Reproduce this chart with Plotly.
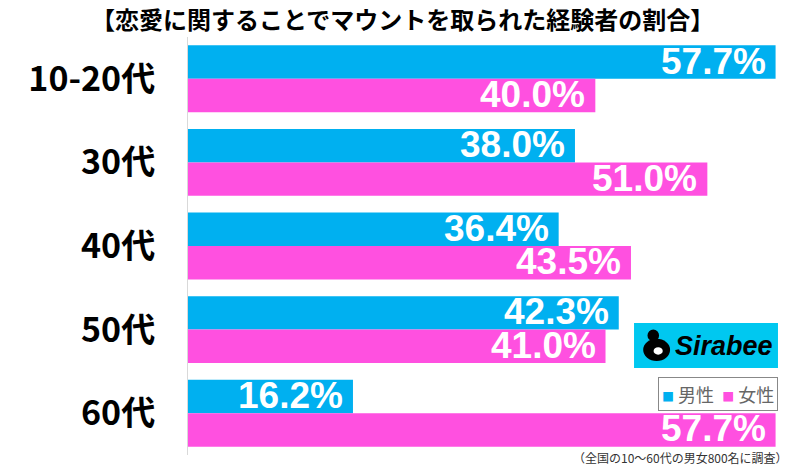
import plotly.graph_objects as go

categories = ["10-20代", "30代", "40代", "50代", "60代"]
male = [57.7, 38.0, 36.4, 42.3, 16.2]
female = [40.0, 51.0, 43.5, 41.0, 57.7]
series_names = ["男性", "女性"]
title_text = "【恋愛に関することでマウントを取られた経験者の割合】"
footnote = "（全国の10～60代の男女800名に調査）"

BLUE = "#00b0f0"
PINK = "#ff50e0"
JP = "Noto Sans CJK JP"

fig = go.Figure()
fig.add_trace(go.Bar(y=categories, x=male, name=series_names[0], orientation="h",
                     marker=dict(color=BLUE, line=dict(width=0))))
fig.add_trace(go.Bar(y=categories, x=female, name=series_names[1], orientation="h",
                     marker=dict(color=PINK, line=dict(width=0))))

anns = []
for i, (m, f) in enumerate(zip(male, female)):
    for val, off in ((m, -0.2), (f, 0.2)):
        anns.append(dict(x=val, y=i + off, xref="x", yref="y",
                         text=f"{val:.1f}%", showarrow=False,
                         xanchor="right", yanchor="middle", xshift=-8, yshift=1,
                         font=dict(family="Liberation Sans", size=37, color="white", weight="bold")))

# title
anns.append(dict(x=(402 - 188) / 611, y=1, xref="paper", yref="paper", yanchor="middle", yshift=19,
                 xanchor="center", text=title_text, showarrow=False,
                 font=dict(family=JP, size=24, color="black", weight="bold")))
# footnote
anns.append(dict(x=1, y=0, xref="paper", yref="paper", xanchor="right", yanchor="middle",
                 xshift=-9, yshift=-2, text=footnote, showarrow=False,
                 font=dict(family=JP, size=12, color="#333")))
# legend (manual)
leg_text = (f"<span style='color:{BLUE};font-size:12px'>■</span>&nbsp;{series_names[0]}&nbsp;&nbsp;"
            f"<span style='color:{PINK};font-size:12px'>■</span>&nbsp;{series_names[1]}")
anns.append(dict(x=0.9656, y=(455 - 377) / 418, xref="paper", yref="paper", xanchor="right", yanchor="top",
                 text=leg_text, showarrow=False, bordercolor="#888", borderwidth=1, borderpad=3,
                 bgcolor="white", font=dict(family=JP, size=18, color="#666")))
# logo
anns.append(dict(x=(724 - 188) / 611, y=(455 - 346) / 418, xref="paper", yref="paper",
                 xanchor="center", yanchor="middle",
                 text="<i>Sirabee</i>", showarrow=False,
                 font=dict(family="Liberation Sans", size=27, color="black", weight="bold")))

fig.update_layout(
    width=800, height=466,
    margin=dict(l=188, r=1, t=37, b=11),
    paper_bgcolor="white", plot_bgcolor="white",
    barmode="group", bargap=0.2, bargroupgap=0,
    showlegend=False,
    xaxis=dict(range=[0, 60], visible=False, fixedrange=True),
    yaxis=dict(autorange="reversed", showline=True, linecolor="#d9d9d9", linewidth=1,
               ticks="", ticklabelstandoff=25,
               tickfont=dict(family=JP, size=34, color="black", weight="bold")),
    annotations=anns,
)

fig.add_shape(type="rect", xref="paper", yref="paper", x0=0.730, x1=0.9656, y0=0.2081, y1=0.3158,
              fillcolor="#00c8f0", line=dict(width=0), layer="above")
fig.add_shape(type="circle", xref="paper", yref="paper", x0=0.745, x1=0.789, y0=0.225, y1=0.278,
              fillcolor="black", line=dict(width=0), layer="above")
fig.add_shape(type="circle", xref="paper", yref="paper", x0=0.752, x1=0.771, y0=0.272, y1=0.300,
              fillcolor="black", line=dict(width=0), layer="above")
fig.add_shape(type="circle", xref="paper", yref="paper", x0=0.762, x1=0.777, y0=0.240, y1=0.258,
              fillcolor="white", line=dict(width=0), layer="above")

fig.write_html("out.html")
